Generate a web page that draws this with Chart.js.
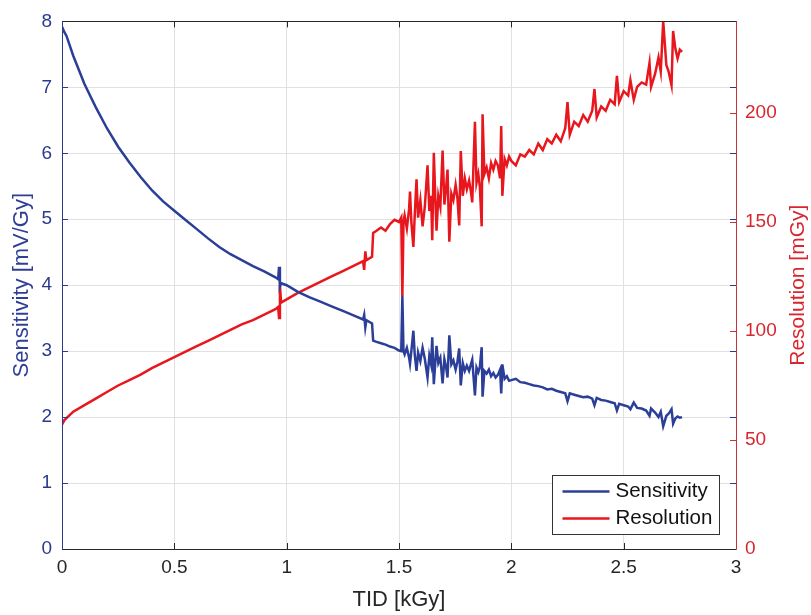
<!DOCTYPE html>
<html>
<head>
<meta charset="utf-8">
<title>Sensitivity / Resolution vs TID</title>
<script src="https://cdn.jsdelivr.net/npm/chart.js@4.4.0/dist/chart.umd.min.js"></script>
<style>
	body { margin: 0; background: #fff; }
	canvas { display: block; }
</style>
</head>
<body>
<canvas id="grafico" width="811" height="615"></canvas>
<script>
// TID [kGy]
var tid = [0, 0.01, 0.02, 0.05, 0.1, 0.15, 0.2, 0.25, 0.3, 0.35, 0.4, 0.45, 0.5, 0.55, 0.6, 0.65, 0.7, 0.75, 0.8, 0.85, 0.9, 0.95,
	0.962, 0.966, 0.97, 0.975, 1.0, 1.05, 1.1, 1.15, 1.2, 1.25, 1.3, 1.34, 1.345, 1.35, 1.355, 1.38, 1.385,
	1.4, 1.42, 1.44, 1.46, 1.48, 1.5, 1.51, 1.515, 1.52,
	1.525, 1.535, 1.545, 1.549, 1.555, 1.564, 1.57, 1.578, 1.585, 1.595,
	1.605, 1.615, 1.627, 1.635, 1.643, 1.648, 1.655, 1.662, 1.667, 1.675,
	1.684, 1.694, 1.702, 1.71, 1.716, 1.724, 1.733, 1.742, 1.752, 1.76,
	1.768, 1.775, 1.784, 1.793, 1.802, 1.812, 1.82, 1.826, 1.838, 1.845,
	1.853, 1.86, 1.868, 1.872, 1.88, 1.89, 1.9, 1.91, 1.92, 1.93,
	1.94, 1.95, 1.955, 1.96, 1.97, 1.98, 1.99,
	2.00, 2.02, 2.04, 2.06, 2.08, 2.10, 2.12, 2.14, 2.16, 2.18,
	2.20, 2.22, 2.24, 2.25, 2.26, 2.28, 2.30, 2.32, 2.34, 2.36,
	2.37, 2.38, 2.40, 2.42, 2.44, 2.46, 2.47, 2.48, 2.50, 2.52,
	2.53, 2.545, 2.56, 2.58, 2.60, 2.615, 2.622, 2.64, 2.655, 2.665,
	2.676, 2.69, 2.70, 2.713, 2.72, 2.73, 2.74, 2.75, 2.76];

// Sensitivity [mV/Gy]
var sensitivity = [7.92, 7.84, 7.78, 7.48, 7.05, 6.70, 6.38, 6.10, 5.86, 5.64, 5.44, 5.27, 5.13, 4.99, 4.85, 4.71, 4.58, 4.47, 4.38, 4.29, 4.21, 4.12,
	4.09, 4.28, 3.98, 4.03, 4.00, 3.90, 3.82, 3.75, 3.68, 3.61, 3.54, 3.48, 3.55, 3.36, 3.47, 3.42, 3.16,
	3.14, 3.12, 3.10, 3.07, 3.05, 3.01, 3.00, 3.84, 3.00,
	2.95, 3.05, 2.90, 2.81, 3.00, 3.31, 2.95, 2.70, 2.98, 2.85,
	3.05, 2.88, 2.60, 2.93, 2.80, 3.21, 2.50, 2.85, 3.08, 2.82,
	2.90, 2.51, 2.88, 2.75, 2.60, 3.24, 2.80, 2.86, 2.72, 2.84,
	3.04, 2.48, 2.82, 2.70, 2.78, 2.70, 2.80, 2.87, 2.33, 2.75,
	2.68, 2.76, 3.06, 2.31, 2.70, 2.66, 2.72, 2.62, 2.67, 2.60,
	2.64, 2.72, 2.36, 2.80, 2.58, 2.62, 2.55,
	2.56, 2.58, 2.53, 2.52, 2.50, 2.48, 2.47, 2.45, 2.42, 2.43,
	2.40, 2.38, 2.36, 2.24, 2.36, 2.34, 2.32, 2.30, 2.31, 2.28,
	2.18, 2.29, 2.26, 2.25, 2.23, 2.21, 2.10, 2.20, 2.18, 2.16,
	2.12, 2.22, 2.14, 2.13, 2.10, 2.02, 2.13, 2.07, 2.00, 2.08,
	1.86, 2.02, 2.05, 2.12, 1.90, 1.98, 2.01, 1.99, 2.00];

// Resolution [mGy]
var resolution = [57, 59, 60, 63, 66, 69, 72, 75, 77.5, 80, 83, 85.5, 88, 90.5, 93, 95.5, 98, 100.5, 103, 105, 107.5, 110,
	111, 106, 121, 113, 114.5, 117.5, 120, 122.5, 125, 127.5, 130, 132, 128, 136.5, 132.5, 134, 145,
	146, 147.5, 146, 149, 151, 150, 152, 116, 150,
	153, 147, 156, 164, 150, 138.6, 153, 169.6, 152, 160,
	148, 157, 176, 155, 162, 141.6, 181.7, 160, 146, 162,
	157, 182.8, 158, 166, 174, 141, 163, 160, 167, 161,
	148.4, 182.5, 162, 170, 165, 169, 164, 159, 196, 168,
	172, 166, 148, 199.4, 172, 175, 170, 177, 174, 178,
	176, 170, 194, 162, 179, 176, 180,
	178, 176, 181, 180, 183, 181, 186, 183, 188, 186,
	190, 187, 193, 205, 190, 196, 194, 199, 196, 201,
	211, 198, 203, 201, 206, 204, 217, 205, 210, 208,
	215, 206, 212, 214, 213, 223, 212, 218, 225.5, 219,
	242, 222, 219, 212.7, 237.6, 229.5, 225, 229, 228];

var tidTicks = [0, 0.5, 1, 1.5, 2, 2.5, 3];
var sensTicks = [0, 1, 2, 3, 4, 5, 6, 7, 8];
var resTicks = [0, 50, 100, 150, 200];
var resMax = 242;

var AZUL = '#2b3f99';
var ROJO = '#e8161d';
var FUENTE = "'Liberation Sans', Arial, Helvetica, sans-serif";

function puntos(ys){
	return tid.map(function(x, i){ return {x: x, y: ys[i]}; });
}

function fijarTicks(valores){
	return function(scale){
		scale.ticks = valores.map(function(v){ return {value: v}; });
	};
}

function etiqueta(v){ return String(v); }

// marco con ticks hacia adentro (estilo MATLAB)
var marco = {
	id: 'marco',
	afterDatasetsDraw: function(chart){
		var ctx = chart.ctx, a = chart.chartArea;
		var sx = chart.scales.x, sy = chart.scales.y, sr = chart.scales.y1;
		var L = 6;
		function linea(x1, y1, x2, y2, color){
			ctx.strokeStyle = color;
			ctx.beginPath(); ctx.moveTo(x1, y1); ctx.lineTo(x2, y2); ctx.stroke();
		}
		ctx.save();
		ctx.lineWidth = 1;
		tidTicks.forEach(function(v){
			var px = Math.round(sx.getPixelForValue(v)) + 0.5;
			linea(px, a.bottom, px, a.bottom - L, '#262626');
			linea(px, a.top, px, a.top + L, '#262626');
		});
		sensTicks.forEach(function(v){
			var py = Math.round(sy.getPixelForValue(v)) + 0.5;
			linea(a.left, py, a.left + L, py, '#2b3a8a');
			linea(a.right, py, a.right - L, py, '#2b3a8a');
		});
		resTicks.forEach(function(v){
			var py = Math.round(sr.getPixelForValue(v)) + 0.5;
			linea(a.right, py, a.right - L, py, '#c9343c');
		});
		var l = Math.round(a.left) + 0.5, r = Math.round(a.right) + 0.5;
		var t = Math.round(a.top) + 0.5, b = Math.round(a.bottom) + 0.5;
		linea(l, t, r, t, '#262626');
		linea(l, b, r, b, '#262626');
		linea(l, t, l, b, '#2b3a8a');
		linea(r, t, r, b, '#c9343c');
		ctx.restore();
	},
	afterDraw: function(chart){
		var ctx = chart.ctx, a = chart.chartArea;
		ctx.save();
		// titulo eje derecho, leido de abajo hacia arriba
		ctx.fillStyle = '#d9262e';
		ctx.font = '21px ' + FUENTE;
		ctx.textAlign = 'center';
		ctx.textBaseline = 'middle';
		ctx.translate(798, (a.top + a.bottom) / 2);
		ctx.rotate(-Math.PI / 2);
		ctx.fillText('Resolution [mGy]', 0, 0);
		ctx.restore();

		// leyenda
		var bx = a.right - 183.5, by = a.bottom - 73.5, bw = 167, bh = 59;
		ctx.save();
		ctx.fillStyle = '#fff';
		ctx.fillRect(bx, by, bw, bh);
		ctx.strokeStyle = '#333';
		ctx.lineWidth = 1;
		ctx.strokeRect(bx, by, bw, bh);
		ctx.font = '20.5px ' + FUENTE;
		ctx.textBaseline = 'middle';
		ctx.textAlign = 'left';
		chart.data.datasets.forEach(function(ds, i){
			var yy = by + 16 + i * 27;
			ctx.strokeStyle = ds.borderColor;
			ctx.lineWidth = 2.5;
			ctx.beginPath(); ctx.moveTo(bx + 10, yy); ctx.lineTo(bx + 57, yy); ctx.stroke();
			ctx.fillStyle = '#111';
			ctx.fillText(ds.label, bx + 63, yy);
		});
		ctx.restore();
	}
};

var config = {
	type: 'line',
	data: {
		datasets: [{
			label: 'Sensitivity',
			data: puntos(sensitivity),
			yAxisID: 'y',
			borderColor: AZUL,
			borderWidth: 2.5,
			pointRadius: 0,
			tension: 0
		}, {
			label: 'Resolution',
			data: puntos(resolution),
			yAxisID: 'y1',
			borderColor: ROJO,
			borderWidth: 2.5,
			pointRadius: 0,
			tension: 0
		}]
	},
	options: {
		responsive: false,
		animation: false,
		devicePixelRatio: 1,
		layout: { padding: { top: 15, left: 0, right: 0, bottom: 0 } },
		plugins: {
			legend: { display: false },
			tooltip: { enabled: false }
		},
		scales: {
			x: {
				type: 'linear',
				min: 0, max: 3,
				afterBuildTicks: fijarTicks(tidTicks),
				afterFit: function(s){ s.height = 66; },
				grid: { color: '#e1e1e1', drawTicks: false },
				border: { display: false },
				ticks: { color: '#262626', padding: 7, font: { family: FUENTE, size: 19 }, callback: etiqueta },
				title: { display: true, text: 'TID [kGy]', color: '#262626', padding: { top: 0, bottom: 2 }, font: { family: FUENTE, size: 22 } }
			},
			y: {
				type: 'linear',
				position: 'left',
				min: 0, max: 8,
				afterBuildTicks: fijarTicks(sensTicks),
				afterFit: function(s){ s.width = 62; },
				grid: { color: '#e1e1e1', drawTicks: false },
				border: { display: false },
				ticks: { color: '#2b3a8f', padding: 10, font: { family: FUENTE, size: 19 }, callback: etiqueta },
				title: { display: true, text: 'Sensitivity [mV/Gy]', color: '#2f3f96', padding: { top: 9, bottom: 0 }, font: { family: FUENTE, size: 22 } }
			},
			y1: {
				type: 'linear',
				position: 'right',
				min: 0, max: resMax,
				afterBuildTicks: fijarTicks(resTicks),
				afterFit: function(s){ s.width = 75; },
				grid: { display: false, drawTicks: false },
				border: { display: false },
				ticks: { color: '#d9262e', padding: 9, font: { family: FUENTE, size: 19 }, callback: etiqueta }
			}
		}
	},
	plugins: [marco]
};

var chart = new Chart(document.getElementById('grafico').getContext('2d'), config);
</script>
</body>
</html>
